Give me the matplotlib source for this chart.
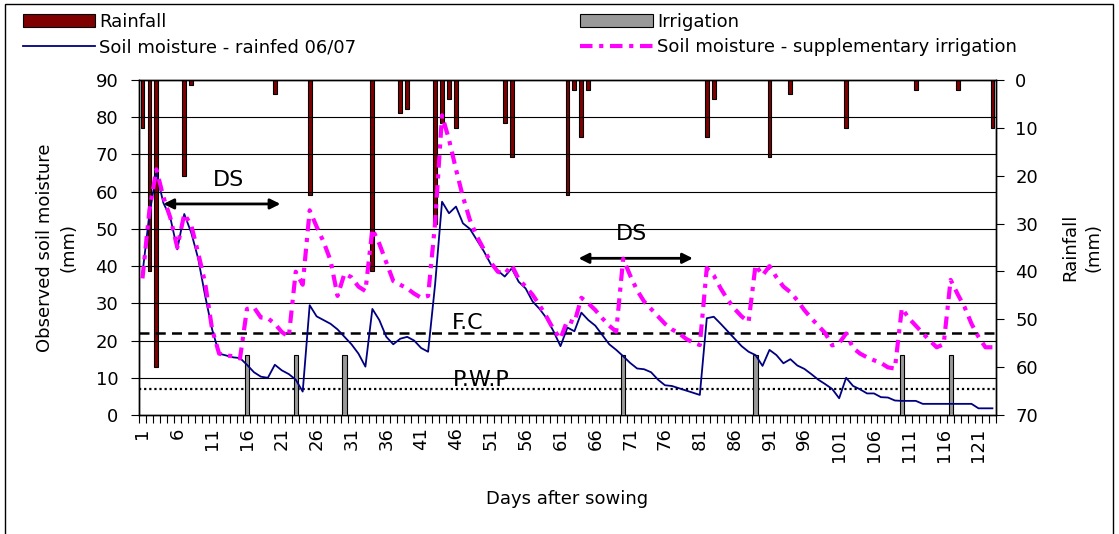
from matplotlib import pyplot as plt
from matplotlib.patches import Rectangle
from matplotlib.ticker import FixedLocator
import numpy as np

# DATA
days = np.arange(1, 124)

rain_days = [1, 2, 3, 7, 8, 20, 25, 34, 38, 39, 43, 44, 45, 46, 53, 54,
             62, 63, 64, 65, 82, 83, 91, 94, 102, 112, 118, 123]
rain_mm = [10, 40, 60, 20, 1, 3, 24, 40, 7, 6, 30, 9, 4, 10, 9, 16,
           24, 2, 12, 2, 12, 4, 16, 3, 10, 2, 2, 10]

irr_days = [16, 23, 30, 70, 89, 110, 117]
irr_mm = [16, 16, 16, 16, 16, 16, 16]

sm_rainfed = [
    38, 54, 65, 57, 53, 44.5, 54, 49, 42, 32,
    23, 16.5, 16, 15.5, 15.3, 13.5, 11.5, 10.3, 10, 13.5,
    12, 11, 9.5, 6.3, 29.5, 26.5, 25.5, 24.5, 23, 21,
    19, 16.5, 13, 28.5, 25.5, 21, 19, 20.5, 21, 20,
    18, 17, 35, 57.3, 54.2, 56, 51.5, 50, 47, 44,
    40.5, 38.8, 37.2, 39.4, 35.8, 34, 30.5, 28.5, 26, 22.5,
    18.5, 23.5, 22.5, 27.5, 25.5, 24, 21.5, 19, 17.5, 15.8,
    14, 12.5, 12.3, 11.5, 9.5, 8, 7.8, 7.2, 6.6, 6,
    5.4, 26, 26.4, 24.5, 22.5, 20.5, 18.5, 17, 16.1, 13.2,
    17.5, 16.1, 13.9, 15, 13.3, 12.4, 11, 9.5, 8.3, 7,
    4.5, 10, 7.8, 6.9, 5.8, 5.8, 4.8, 4.7, 3.9, 3.8,
    3.8, 3.8, 3, 3, 3, 3, 3, 3, 3, 3,
    1.8, 1.8, 1.8]

sm_irrigated = [
    36.7, 55, 66, 58.6, 53, 45, 54, 51, 43.5, 35.4,
    23, 16.5, 16, 15.8, 15.2, 28.5, 28.9, 26.2, 26, 24.5,
    22.3, 21, 38.5, 35, 55, 50.6, 46.5, 41.5, 32, 38,
    37, 34.5, 33.3, 50, 46, 41, 36, 35, 34, 32.6,
    31.5, 32, 51.5, 80.5, 74, 66, 58.6, 52.4, 48, 44.5,
    41, 38.5, 37.9, 40.3, 36.5, 34.5, 32.3, 29.5, 26.4, 23,
    20.5, 25.5, 24.8, 31.5, 30, 28.2, 26, 24, 22.4, 42,
    37.5, 33.5, 30.5, 28.5, 26.5, 24.5, 23, 22, 20.5, 19.5,
    18.8, 39.5, 37.5, 34, 31, 28.5, 26.5, 25, 40.3, 37.5,
    40, 37, 34.5, 33, 30.8, 28.2, 26, 24, 22, 18.7,
    19.3, 21.9, 18, 16.5, 15.5, 14.7, 14, 12.8, 12.5, 28.7,
    26, 24, 22, 20, 18.2, 19, 36.3, 32.5, 29, 24.5,
    21, 18.2, 18.2]

FIELD_CAPACITY = 22
WILTING_POINT = 7

# SCRIPT
if __name__ == '__main__':
    plt.rcParams['font.family'] = 'DejaVu Sans'
    fig = plt.figure(figsize=(11.19, 5.34), dpi=100)
    ax = fig.add_axes([0.1242, 0.2228, 0.7658, 0.6274])
    ax2 = ax.twinx()
    ax.set_zorder(ax2.get_zorder() + 1)
    ax.patch.set_visible(False)

    # rainfall hanging from the top of the inverted right axis
    rain_bars = ax2.bar(rain_days, rain_mm, width=0.55, color='#800000',
                        edgecolor='black', linewidth=0.8)
    ax2.set_ylim(70, 0)
    ax2.set_yticks(np.arange(0, 71, 10))
    ax2.set_ylabel('Rainfall\n(mm)', fontsize=13, linespacing=1.35,
                   labelpad=17)

    # irrigation and soil moisture on the left axis
    irr_bars = ax.bar(irr_days, irr_mm, width=0.6, color='#999999',
                      edgecolor='black', linewidth=0.8, zorder=3)
    line_rf, = ax.plot(days, sm_rainfed, color='#000080', lw=1.3, zorder=4)
    line_si, = ax.plot(days, sm_irrigated, color='#FF00FF', lw=3,
                       dashes=(3, 1.6, 1, 1.6), zorder=4)

    ax.axhline(FIELD_CAPACITY, color='black', lw=1.8, dashes=(4, 2.5),
               zorder=2)
    ax.axhline(WILTING_POINT, color='black', lw=1.6, dashes=(1, 1.3),
               zorder=2)

    for yv in np.arange(10, 90, 10):
        ax.axhline(yv, color='black', lw=0.8, zorder=1)

    ax.set_ylim(0, 90)
    ax.set_xlim(0.5, 123.5)
    ax.set_yticks(np.arange(0, 91, 10))
    ax.set_ylabel('Observed soil moisture\n(mm)', fontsize=13,
                  linespacing=1.35, labelpad=13)
    ax.set_xlabel('Days after sowing', fontsize=13, labelpad=20)

    ax.set_xticks(np.arange(1, 124, 5))
    ax.set_xticklabels([str(d) for d in range(1, 124, 5)], rotation=90)
    ax.xaxis.set_minor_locator(FixedLocator(np.arange(0.5, 124, 1)))
    ax.tick_params(axis='x', which='major', length=0, labelsize=13, pad=9)
    ax.tick_params(axis='x', which='minor', length=6, width=0.8)
    ax.tick_params(axis='y', labelsize=13, length=6, width=0.8, pad=9)
    ax2.tick_params(axis='y', labelsize=13, length=6, width=0.8, pad=8)

    # annotations
    ax.text(47.7, 24.7, 'F.C', fontsize=16, ha='center', va='center',
            zorder=5)
    ax.text(49.6, 9.4, 'P.W.P', fontsize=16, ha='center', va='center',
            zorder=5)
    ax.text(13.4, 63.1, 'DS', fontsize=16, ha='center', va='center')
    ax.text(71.2, 48.5, 'DS', fontsize=16, ha='center', va='center')
    ax.annotate('', xy=(3.6, 56.7), xytext=(21.2, 56.7),
                arrowprops=dict(arrowstyle='<|-|>', color='black', lw=2,
                                mutation_scale=15))
    ax.annotate('', xy=(63.2, 42.1), xytext=(80.4, 42.1),
                arrowprops=dict(arrowstyle='<|-|>', color='black', lw=2,
                                mutation_scale=15))

    for a in (ax, ax2):
        for s in a.spines.values():
            s.set_linewidth(1.0)

    # legend: column 1 = rainfall / rainfed, column 2 = irrigation / suppl.
    handles = [rain_bars, line_rf, irr_bars, line_si]
    labels = ['Rainfall', 'Soil moisture - rainfed 06/07', 'Irrigation',
              'Soil moisture - supplementary irrigation']
    fig.legend(handles, labels, loc='upper left',
               bbox_to_anchor=(0.009, 1.0), ncol=2, frameon=False,
               fontsize=13, handlelength=4.0, handletextpad=0.25,
               columnspacing=12.4, labelspacing=0.42, borderaxespad=0.3)

    # outer chart frame
    fig.patches.append(Rectangle((5 / 1119, -0.01), 1108 / 1119,
                                 1.01 - 4 / 534,
                                 transform=fig.transFigure, fill=False,
                                 edgecolor='black', lw=1.0))

    fig.savefig('out.png', dpi=100)
